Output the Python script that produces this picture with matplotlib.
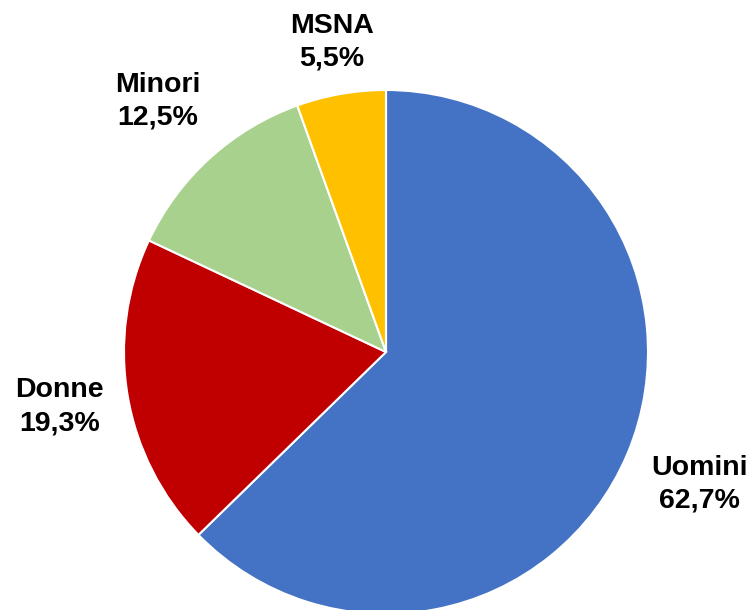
import numpy as np
import matplotlib.pyplot as plt

plt.rcParams['font.family'] = ['Liberation Sans', 'DejaVu Sans']

labels = ['Uomini', 'Donne', 'Minori', 'MSNA']
values = [62.7, 19.3, 12.5, 5.5]
colors = ['#4472C4', '#C00000', '#A9D18E', '#FFC000']
label_dist = [1.30, 1.265, 1.295, 1.20]

fig = plt.figure(figsize=(7.56, 6.10), dpi=100)
# pie centre at (386, 352) px, radius 262 px
ax = fig.add_axes([(386 - 262) / 756, (610 - 352 - 262) / 610, 524 / 756, 524 / 610])

wedges, _ = ax.pie(values, colors=colors, startangle=90, counterclock=False,
                   radius=1, wedgeprops=dict(edgecolor='white', linewidth=1.5))
ax.set_xlim(-1, 1)
ax.set_ylim(-1, 1)
ax.axis('off')

for w, lab, v, d in zip(wedges, labels, values, label_dist):
    ang = np.deg2rad((w.theta1 + w.theta2) / 2)
    txt = f"{lab}\n{v:.1f}%".replace('.', ',')
    ax.text(d * np.cos(ang), d * np.sin(ang), txt, ha='center', va='center',
            fontsize=20.5, fontweight='bold', linespacing=1.35, color='black')

fig.savefig('out.png', dpi=100)
